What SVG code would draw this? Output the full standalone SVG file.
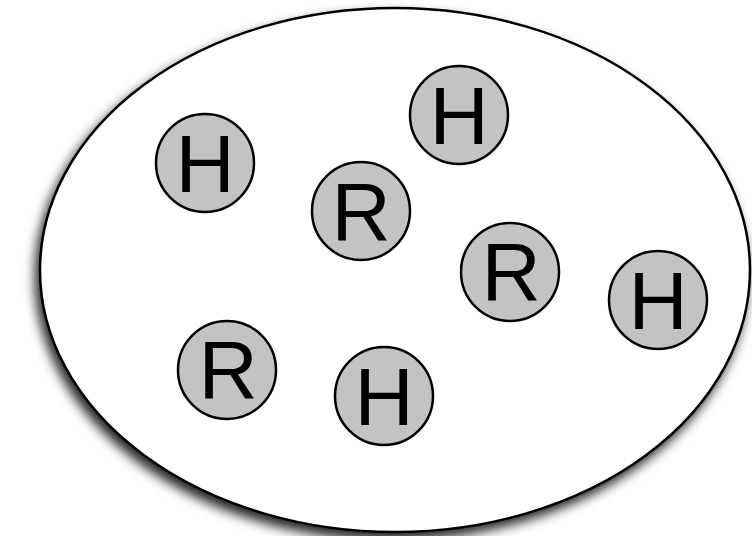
<svg xmlns="http://www.w3.org/2000/svg" width="752" height="536" viewBox="0 0 752 536">
<defs>
<filter id="shadow" x="-20%" y="-20%" width="140%" height="140%">
<feDropShadow dx="-4" dy="7" stdDeviation="6" flood-color="#000" flood-opacity="0.85"/>
</filter>
<style>
.atom circle{fill:#c3c3c3;stroke:#000;stroke-width:2.5}
.atom text{font-family:"Liberation Sans",Arial,Helvetica,sans-serif;font-size:82px;fill:#000;text-anchor:middle}
</style>
</defs>
<rect width="752" height="536" fill="#fff"/>
<g id="container">
<ellipse cx="395" cy="270" rx="355" ry="262" fill="#fff" stroke="#000" stroke-width="2.5" filter="url(#shadow)"/>
</g>
<g id="connectors"/>
<g id="h1" class="atom"><circle cx="205" cy="163" r="49"/><text x="205" y="192" font-family="Liberation Sans, sans-serif">H</text></g>
<g id="h2" class="atom"><circle cx="459" cy="115" r="49"/><text x="459" y="144" font-family="Liberation Sans, sans-serif">H</text></g>
<g id="r1" class="atom"><circle cx="361" cy="211" r="49"/><text x="361" y="240" font-family="Liberation Sans, sans-serif">R</text></g>
<g id="r2" class="atom"><circle cx="510" cy="272" r="49"/><text x="511" y="300" font-family="Liberation Sans, sans-serif">R</text></g>
<g id="h3" class="atom"><circle cx="658" cy="300" r="49"/><text x="658" y="329" font-family="Liberation Sans, sans-serif">H</text></g>
<g id="r3" class="atom"><circle cx="227" cy="370" r="49"/><text x="228" y="398" font-family="Liberation Sans, sans-serif">R</text></g>
<g id="h4" class="atom"><circle cx="384" cy="396" r="49"/><text x="384" y="425" font-family="Liberation Sans, sans-serif">H</text></g>
</svg>
